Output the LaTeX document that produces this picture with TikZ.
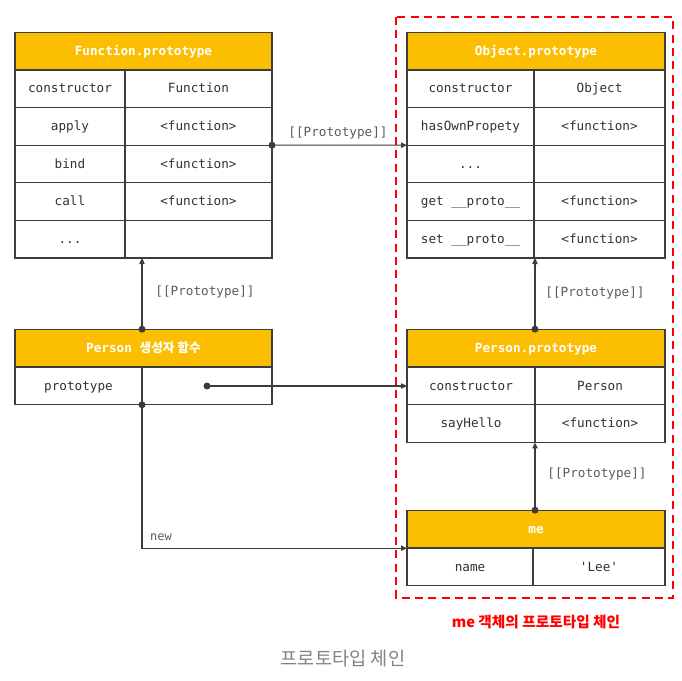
\documentclass[tikz,border=0pt]{standalone}
\usepackage{fontspec}
\usepackage{tikz}
\usetikzlibrary{arrows.meta}
\setmonofont{DejaVu Sans Mono}
\newfontfamily\cjk{Noto Sans CJK KR}
\definecolor{hdrfill}{RGB}{251,190,0}
\definecolor{linec}{RGB}{60,60,60}
\definecolor{txtc}{RGB}{50,50,50}
\definecolor{capgrey}{RGB}{130,130,130}
\newcommand\pxw[1]{#1*0.75pt}

\begin{document}
\begin{tikzpicture}[x=0.75pt,y=-0.75pt,
    hdr/.style={draw=linec,fill=hdrfill,line width=0.8pt,inner sep=0pt,outer sep=0pt,
      minimum height=\pxw{37.6},text height=1.9ex,text depth=0.45ex,
      text=white,font=\ttfamily\bfseries\fontsize{9.5}{11}\selectfont},
    cell/.style={draw=linec,fill=white,line width=0.8pt,inner sep=0pt,outer sep=0pt,
      minimum height=\pxw{37.6},text height=1.9ex,text depth=0.45ex,
      text=txtc,font=\ttfamily\fontsize{9.5}{11}\selectfont},
    lbl/.style={text=txtc!80,font=\ttfamily\fontsize{9.5}{11}\selectfont},
    conn/.style={draw=linec,line width=0.8pt,-{Triangle[length=4.5pt,width=4pt]}},
    dot/.style={fill=linec}]
    \useasboundingbox (0,0) rectangle (682,681);

    % Function.prototype
    \node[hdr,minimum width=\pxw{257}] (fp) at (143.5,51.5) {Function.prototype};
    \node[cell,minimum width=\pxw{110}] (fp-1a) at (70,88.8) {constructor};
    \node[cell,minimum width=\pxw{147}] (fp-1b) at (198.5,88.8) {Function};
    \node[cell,minimum width=\pxw{110}] (fp-2a) at (70,126.4) {apply};
    \node[cell,minimum width=\pxw{147}] (fp-2b) at (198.5,126.4) {<function>};
    \node[cell,minimum width=\pxw{110}] (fp-3a) at (70,164) {bind};
    \node[cell,minimum width=\pxw{147}] (fp-3b) at (198.5,164) {<function>};
    \node[cell,minimum width=\pxw{110}] (fp-4a) at (70,201.6) {call};
    \node[cell,minimum width=\pxw{147}] (fp-4b) at (198.5,201.6) {<function>};
    \node[cell,minimum width=\pxw{110}] (fp-5a) at (70,239.2) {...};
    \node[cell,minimum width=\pxw{147}] (fp-5b) at (198.5,239.2) {};

    % Object.prototype
    \node[hdr,minimum width=\pxw{258}] (op) at (536,51.5) {Object.prototype};
    \node[cell,minimum width=\pxw{127}] (op-1a) at (470.5,88.8) {constructor};
    \node[cell,minimum width=\pxw{131}] (op-1b) at (599.5,88.8) {Object};
    \node[cell,minimum width=\pxw{127}] (op-2a) at (470.5,126.4) {hasOwnPropety};
    \node[cell,minimum width=\pxw{131}] (op-2b) at (599.5,126.4) {<function>};
    \node[cell,minimum width=\pxw{127}] (op-3a) at (470.5,164) {...};
    \node[cell,minimum width=\pxw{131}] (op-3b) at (599.5,164) {};
    \node[cell,minimum width=\pxw{127}] (op-4a) at (470.5,201.6) {get \_\_proto\_\_};
    \node[cell,minimum width=\pxw{131}] (op-4b) at (599.5,201.6) {<function>};
    \node[cell,minimum width=\pxw{127}] (op-5a) at (470.5,239.2) {set \_\_proto\_\_};
    \node[cell,minimum width=\pxw{131}] (op-5b) at (599.5,239.2) {<function>};

    % Person
    \node[hdr,minimum width=\pxw{257}] (pc) at (143.5,348) {Person {\cjk\bfseries 생성자 함수}};
    \node[cell,minimum width=\pxw{127}] (pc-1a) at (78.5,386) {prototype};
    \node[cell,minimum width=\pxw{130}] (pc-1b) at (207,386) {};

    % Person.prototype
    \node[hdr,minimum width=\pxw{258}] (pp) at (536,348) {Person.prototype};
    \node[cell,minimum width=\pxw{128}] (pp-1a) at (471,386) {constructor};
    \node[cell,minimum width=\pxw{130}] (pp-1b) at (600,386) {Person};
    \node[cell,minimum width=\pxw{128}] (pp-2a) at (471,423.6) {sayHello};
    \node[cell,minimum width=\pxw{130}] (pp-2b) at (600,423.6) {<function>};

    % me
    \node[hdr,minimum width=\pxw{258}] (me) at (536,529) {me};
    \node[cell,minimum width=\pxw{126}] (me-1a) at (470,567) {name};
    \node[cell,minimum width=\pxw{132}] (me-1b) at (599,567) {'Lee'};

    % links
    \draw[conn] (fp-2b.south east) -- (op-3a.north west);
    \fill[dot] (fp-2b.south east) circle (3.5);
    \node[lbl] at (338,133) {[[Prototype]]};

    \draw[conn] (pc-1b.west |- pc.north) -- (pc-1b.west |- fp-5a.south);
    \fill[dot] (pc-1b.west |- pc.north) circle (3.5);
    \node[lbl] at (205,292) {[[Prototype]]};

    \draw[conn] (pc-1b.center) -- (pp-1a.west);
    \fill[dot] (pc-1b.center) circle (3.5);

    \draw[conn] (pc-1a.south east) |- (me-1a.north west);
    \fill[dot] (pc-1a.south east) circle (3.5);
    \node[lbl,font=\ttfamily\fontsize{9}{11}\selectfont] at (161,537) {new};

    \draw[conn] (pp-1b.west |- pp.north) -- (pp-1b.west |- op-5b.south);
    \fill[dot] (pp-1b.west |- pp.north) circle (3.5);
    \node[lbl] at (595,293) {[[Prototype]]};

    \draw[conn] (pp-2b.west |- me.north) -- (pp-2b.south west);
    \fill[dot] (pp-2b.west |- me.north) circle (3.5);
    \node[lbl] at (597,474) {[[Prototype]]};

    % chain box
    \draw[red,line width=1.5pt,dash pattern=on 6pt off 4pt] (396,17) rectangle (673,598);
    \node[text=red,font=\cjk\bfseries\fontsize{11}{13}\selectfont] at (536,622) {me 객체의 프로토타입 체인};
    \node[text=capgrey,font=\cjk\fontsize{14}{16}\selectfont] at (343,659) {프로토타입 체인};
\end{tikzpicture}
\end{document}
